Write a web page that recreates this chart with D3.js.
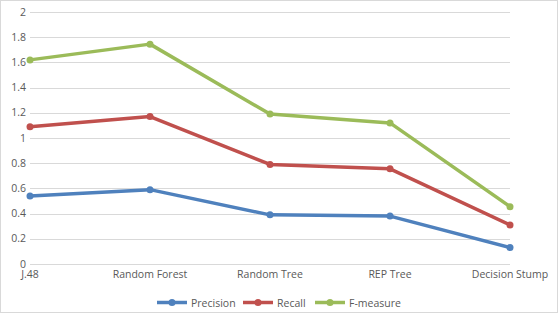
<!DOCTYPE html>
<html lang="en">
<head>
<meta charset="utf-8">
<title>Classifier comparison</title>
<script src="https://d3js.org/d3.v7.min.js"></script>
<style>
body { margin: 0; background: #fff; }
text { font-family: "Open Sans", sans-serif; fill: #595959; }
</style>
</head>
<body>
<div id="chart"></div>
<script>
const width = 558;
const height = 313;

// categories and plotted (cumulative) values
const categories = ["J.48", "Random Forest", "Random Tree", "REP Tree", "Decision Stump"];
const precision = [0.54, 0.59, 0.39, 0.38, 0.13];
const recall = [1.09, 1.17, 0.79, 0.755, 0.31];
const fmeasure = [1.62, 1.745, 1.19, 1.12, 0.455];
const yTicks = [0, 0.2, 0.4, 0.6, 0.8, 1, 1.2, 1.4, 1.6, 1.8, 2];

const series = [
  { name: "Precision", values: precision, color: "#4F81BD" },
  { name: "Recall", values: recall, color: "#C0504D" },
  { name: "F-measure", values: fmeasure, color: "#9BBB59" }
];

const svg = d3.select("#chart").append("svg")
  .attr("width", width)
  .attr("height", height);

svg.append("rect")
  .attr("x", 0.5).attr("y", 0.5)
  .attr("width", width - 1).attr("height", height - 1)
  .attr("fill", "#fff").attr("stroke", "#d9d9d9");

const x = d3.scalePoint().domain(categories).range([30, 510]);
const y = d3.scaleLinear().domain([0, 2]).range([264, 12]);

// gridlines
svg.append("g").selectAll("line")
  .data(yTicks)
  .enter().append("line")
  .attr("x1", 30).attr("x2", 510)
  .attr("y1", d => Math.round(y(d)) + 0.5)
  .attr("y2", d => Math.round(y(d)) + 0.5)
  .attr("stroke", "#d9d9d9");

// y labels
svg.append("g").selectAll("text")
  .data(yTicks)
  .enter().append("text")
  .attr("x", 26)
  .attr("y", d => y(d) + 3.5)
  .attr("text-anchor", "end")
  .style("font-size", "10.5px")
  .text(d => d);

// x labels
svg.append("g").selectAll("text")
  .data(categories)
  .enter().append("text")
  .attr("x", d => x(d))
  .attr("y", 277.5)
  .attr("text-anchor", "middle")
  .style("font-size", "10.5px")
  .text(d => d);

const line = d3.line()
  .x((d, i) => x(categories[i]))
  .y(d => y(d));

series.forEach(s => {
  svg.append("path")
    .datum(s.values)
    .attr("d", line)
    .attr("fill", "none")
    .attr("stroke", s.color)
    .attr("stroke-width", 3.5)
    .attr("stroke-linejoin", "round");
  svg.append("g").selectAll("circle")
    .data(s.values)
    .enter().append("circle")
    .attr("cx", (d, i) => x(categories[i]))
    .attr("cy", d => y(d))
    .attr("r", 3.5)
    .attr("fill", s.color);
});

// legend
const legendX = [157, 243, 315];
const legend = svg.append("g");
series.forEach((s, i) => {
  const lx = legendX[i];
  legend.append("line")
    .attr("x1", lx).attr("x2", lx + 30)
    .attr("y1", 302.5).attr("y2", 302.5)
    .attr("stroke", s.color).attr("stroke-width", 3.5);
  legend.append("circle")
    .attr("cx", lx + 15).attr("cy", 302.5).attr("r", 3.5)
    .attr("fill", s.color);
  legend.append("text")
    .attr("x", lx + 34).attr("y", 306.5)
    .style("font-size", "10.5px")
    .text(s.name);
});
</script>
</body>
</html>
